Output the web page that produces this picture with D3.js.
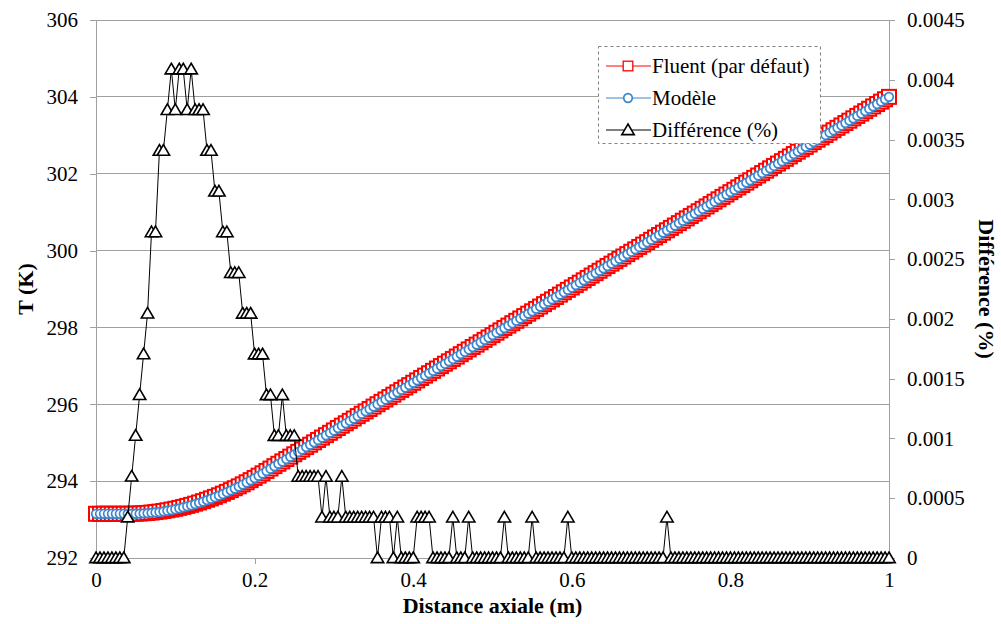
<!DOCTYPE html>
<html><head><meta charset="utf-8">
<script src="https://cdn.jsdelivr.net/npm/d3@7"></script>
<style>body{margin:0;background:#fff}svg{display:block}</style>
</head><body><svg id="c" width="1001" height="624"></svg>
<script>
const distance = [0,0.005,0.01,0.015,0.02,0.025,0.03,0.035,0.04,0.045,0.05,0.055,0.06,0.065,0.07,0.075,0.08,0.085,0.09,0.095,0.1,0.105,0.11,0.115,0.12,0.125,0.13,0.135,0.14,0.145,0.15,0.155,0.16,0.165,0.17,0.175,0.18,0.185,0.19,0.195,0.2,0.205,0.21,0.215,0.22,0.225,0.23,0.235,0.24,0.245,0.25,0.255,0.26,0.265,0.27,0.275,0.28,0.285,0.29,0.295,0.3,0.305,0.31,0.315,0.32,0.325,0.33,0.335,0.34,0.345,0.35,0.355,0.36,0.365,0.37,0.375,0.38,0.385,0.39,0.395,0.4,0.405,0.41,0.415,0.42,0.425,0.43,0.435,0.44,0.445,0.45,0.455,0.46,0.465,0.47,0.475,0.48,0.485,0.49,0.495,0.5,0.505,0.51,0.515,0.52,0.525,0.53,0.535,0.54,0.545,0.55,0.555,0.56,0.565,0.57,0.575,0.58,0.585,0.59,0.595,0.6,0.605,0.61,0.615,0.62,0.625,0.63,0.635,0.64,0.645,0.65,0.655,0.66,0.665,0.67,0.675,0.68,0.685,0.69,0.695,0.7,0.705,0.71,0.715,0.72,0.725,0.73,0.735,0.74,0.745,0.75,0.755,0.76,0.765,0.77,0.775,0.78,0.785,0.79,0.795,0.8,0.805,0.81,0.815,0.82,0.825,0.83,0.835,0.84,0.845,0.85,0.855,0.86,0.865,0.87,0.875,0.88,0.885,0.89,0.895,0.9,0.905,0.91,0.915,0.92,0.925,0.93,0.935,0.94,0.945,0.95,0.955,0.96,0.965,0.97,0.975,0.98,0.985,0.99,0.995,1];

const fluent = [293.150,293.150,293.150,293.150,293.150,293.150,293.150,293.150,293.150,293.151,293.154,293.158,293.165,293.173,293.183,293.195,293.208,293.224,293.241,293.260,293.281,293.304,293.329,293.355,293.383,293.414,293.445,293.479,293.515,293.552,293.591,293.632,293.675,293.720,293.766,293.815,293.865,293.917,293.971,294.026,294.084,294.143,294.204,294.266,294.328,294.390,294.452,294.514,294.576,294.638,294.700,294.762,294.824,294.886,294.948,295.010,295.072,295.134,295.196,295.258,295.320,295.382,295.444,295.506,295.568,295.630,295.692,295.754,295.816,295.878,295.940,296.002,296.064,296.126,296.188,296.250,296.312,296.374,296.436,296.498,296.560,296.622,296.684,296.746,296.808,296.870,296.932,296.994,297.056,297.118,297.180,297.242,297.304,297.366,297.428,297.490,297.552,297.614,297.676,297.738,297.800,297.862,297.924,297.986,298.048,298.110,298.172,298.234,298.296,298.358,298.420,298.482,298.544,298.606,298.668,298.730,298.792,298.854,298.916,298.978,299.040,299.102,299.164,299.226,299.288,299.350,299.412,299.474,299.536,299.598,299.660,299.722,299.784,299.846,299.908,299.970,300.032,300.094,300.156,300.218,300.280,300.342,300.404,300.466,300.528,300.590,300.652,300.714,300.776,300.838,300.900,300.962,301.024,301.086,301.148,301.210,301.272,301.334,301.396,301.458,301.520,301.582,301.644,301.706,301.768,301.830,301.892,301.954,302.016,302.078,302.140,302.202,302.264,302.326,302.388,302.450,302.512,302.574,302.636,302.698,302.760,302.822,302.884,302.946,303.008,303.070,303.132,303.194,303.256,303.318,303.380,303.442,303.504,303.566,303.628,303.690,303.752,303.814,303.876,303.938,304.000];

const modele = [293.150,293.150,293.150,293.150,293.150,293.150,293.150,293.150,293.149,293.149,293.151,293.154,293.160,293.167,293.175,293.187,293.198,293.214,293.230,293.248,293.270,293.292,293.317,293.344,293.371,293.403,293.434,293.468,293.505,293.542,293.582,293.623,293.667,293.712,293.759,293.808,293.858,293.911,293.965,294.020,294.079,294.138,294.199,294.262,294.324,294.387,294.449,294.510,294.573,294.635,294.697,294.760,294.822,294.884,294.946,295.008,295.070,295.133,295.194,295.257,295.319,295.381,295.442,295.505,295.567,295.629,295.691,295.753,295.815,295.877,295.939,296.002,296.063,296.125,296.187,296.250,296.311,296.374,296.436,296.498,296.560,296.621,296.683,296.745,296.807,296.870,296.932,296.994,297.056,297.118,297.179,297.242,297.304,297.366,297.427,297.490,297.552,297.614,297.676,297.738,297.800,297.862,297.924,297.985,298.048,298.110,298.172,298.234,298.296,298.358,298.419,298.482,298.544,298.606,298.668,298.730,298.792,298.854,298.916,298.977,299.040,299.102,299.164,299.226,299.288,299.350,299.412,299.474,299.536,299.598,299.660,299.722,299.784,299.846,299.908,299.970,300.032,300.094,300.156,300.218,300.280,300.342,300.404,300.466,300.527,300.590,300.652,300.714,300.776,300.838,300.900,300.962,301.024,301.086,301.148,301.210,301.272,301.334,301.396,301.458,301.520,301.582,301.644,301.706,301.768,301.830,301.892,301.954,302.016,302.078,302.140,302.202,302.264,302.326,302.388,302.450,302.512,302.574,302.636,302.698,302.760,302.822,302.884,302.946,303.008,303.070,303.132,303.194,303.256,303.318,303.380,303.442,303.504,303.566,303.628,303.690,303.752,303.814,303.876,303.938,304.000];

const difference = [0,0,0,0,0,0,0,0,0.000341,0.000682,0.001023,0.001364,0.001705,0.002046,0.002726,0.002726,0.003407,0.003407,0.003748,0.004088,0.003748,0.004088,0.004088,0.003748,0.004088,0.003748,0.003748,0.003748,0.003407,0.003407,0.003066,0.003066,0.002726,0.002726,0.002385,0.002385,0.002385,0.002045,0.002045,0.002045,0.001704,0.001704,0.001704,0.001363,0.001363,0.001022,0.001022,0.001363,0.001022,0.001022,0.001022,0.000681,0.000681,0.000681,0.000681,0.000681,0.000681,0.000340,0.000681,0.000340,0.000340,0.000340,0.000681,0.000340,0.000340,0.000340,0.000340,0.000340,0.000340,0.000340,0.000340,0,0.000340,0.000340,0.000340,0,0.000340,0,0,0,0,0.000340,0.000340,0.000340,0.000340,0,0,0,0,0,0.000340,0,0,0,0.000340,0,0,0,0,0,0,0,0,0.000340,0,0,0,0,0,0,0.000340,0,0,0,0,0,0,0,0,0.000340,0,0,0,0,0,0,0,0,0,0,0,0,0,0,0,0,0,0,0,0,0,0,0,0,0.000340,0,0,0,0,0,0,0,0,0,0,0,0,0,0,0,0,0,0,0,0,0,0,0,0,0,0,0,0,0,0,0,0,0,0,0,0,0,0,0,0,0,0,0,0,0,0,0,0,0,0,0,0,0,0,0,0,0,0,0,0,0];

const xTicks = [0,0.2,0.4,0.6,0.8,1];
const xTickLabels = ["0","0.2","0.4","0.6","0.8","1"];
const tTicks = [292,294,296,298,300,302,304,306];
const dTicks = [0,0.0005,0.001,0.0015,0.002,0.0025,0.003,0.0035,0.004,0.0045];
const dTickLabels = ["0","0.0005","0.001","0.0015","0.002","0.0025","0.003","0.0035","0.004","0.0045"];
const seriesNames = ["Fluent (par défaut)","Modèle","Différence (%)"];

const FONT = "Liberation Serif";
const svg = d3.select("#c");
const L=96,R=889,T=20,B=558;
const x = d3.scaleLinear().domain([0,1]).range([L,R]);
const yT = d3.scaleLinear().domain([292,306]).range([B,T]);
const yD = d3.scaleLinear().domain([0,0.0045]).range([B,T]);
const grey="#a0a0a0";

svg.append("g").selectAll("line").data(tTicks).join("line")
  .attr("x1",L).attr("x2",R).attr("y1",d=>yT(d)).attr("y2",d=>yT(d))
  .attr("stroke",grey).attr("stroke-width",1).attr("shape-rendering","crispEdges");

function styleAxis(g){
  g.attr("font-family",FONT).attr("font-size",21);
  g.selectAll("path,line").attr("stroke",grey).attr("shape-rendering","crispEdges");
  g.selectAll("text").attr("font-family",FONT).attr("font-size",21).attr("fill","#000");
}
svg.append("g").attr("transform",`translate(${L},0)`)
  .call(d3.axisLeft(yT).tickValues(tTicks).tickFormat(d3.format("d")).tickSize(6).tickSizeOuter(0).tickPadding(12))
  .call(styleAxis);
svg.append("g").attr("transform",`translate(${R},0)`)
  .call(d3.axisRight(yD).tickValues(dTicks).tickFormat((d,i)=>dTickLabels[i]).tickSize(6).tickSizeOuter(0).tickPadding(12))
  .call(styleAxis);
svg.append("g").attr("transform",`translate(0,${B})`)
  .call(d3.axisBottom(x).tickValues(xTicks).tickFormat((d,i)=>xTickLabels[i]).tickSize(6).tickSizeOuter(0).tickPadding(8))
  .call(styleAxis);

function title(t){ return t.attr("font-family",FONT).attr("font-weight","bold").attr("font-size",22).attr("text-anchor","middle"); }
title(svg.append("text").attr("transform",`translate(33,${(T+B)/2}) rotate(-90)`)).text("T (K)");
title(svg.append("text").attr("transform",`translate(979,${(T+B)/2}) rotate(90)`)).text("Différence (%)");
title(svg.append("text").attr("x",(L+R)/2).attr("y",613)).text("Distance axiale (m)");

function series(vals, yscale, color, marker){
  const pts = distance.map((d,i)=>[x(d), yscale(vals[i])]);
  const g = svg.append("g");
  g.append("path").attr("d", d3.line()(pts)).attr("fill","none").attr("stroke",color).attr("stroke-width",1);
  const m = g.selectAll("g.m").data(pts).join("g").attr("transform",p=>`translate(${p[0]},${p[1]})`);
  marker(m);
}
const sqBig = m=>m.append("rect").attr("x",-7).attr("y",-7).attr("width",14).attr("height",14)
   .attr("fill","#fff").attr("stroke","#ff0000").attr("stroke-width",2);
const sq = m=>m.append("rect").attr("x",-4.8).attr("y",-4.8).attr("width",9.6).attr("height",9.6)
   .attr("fill","#fff").attr("stroke","#ff0000").attr("stroke-width",1.3);
const ci = m=>m.append("circle").attr("r",4.3).attr("fill","#fff").attr("stroke","#3a87cf").attr("stroke-width",1.7);
const tr = m=>m.append("path").attr("d","M0,-6L6.2,4.6L-6.2,4.6Z").attr("fill","#fff").attr("stroke","#000").attr("stroke-width",1.6).attr("stroke-linejoin","miter");

series(fluent, yT, "#ff0000", sqBig);
series(modele, yT, "#3a87cf", ci);
series(difference, yD, "#000", tr);

const lg = svg.append("g");
lg.append("rect").attr("x",598.5).attr("y",46.5).attr("width",222).attr("height",97)
  .attr("fill","#fff").attr("stroke","#808080").attr("stroke-dasharray","3,3");
const lcol = ["#ff0000","#3a87cf","#000"];
const lmk = [sq,ci,tr];
seriesNames.forEach((n,i)=>{
  const yy = 66 + i*32;
  lg.append("line").attr("x1",606).attr("x2",651).attr("y1",yy).attr("y2",yy).attr("stroke",lcol[i]).attr("stroke-width",1);
  const m = lg.append("g").attr("transform",`translate(628,${yy})`);
  lmk[i](m);
  lg.append("text").attr("x",652).attr("y",yy).attr("dy","0.35em").attr("font-family",FONT).attr("font-size",21).text(n);
});
</script></body></html>
